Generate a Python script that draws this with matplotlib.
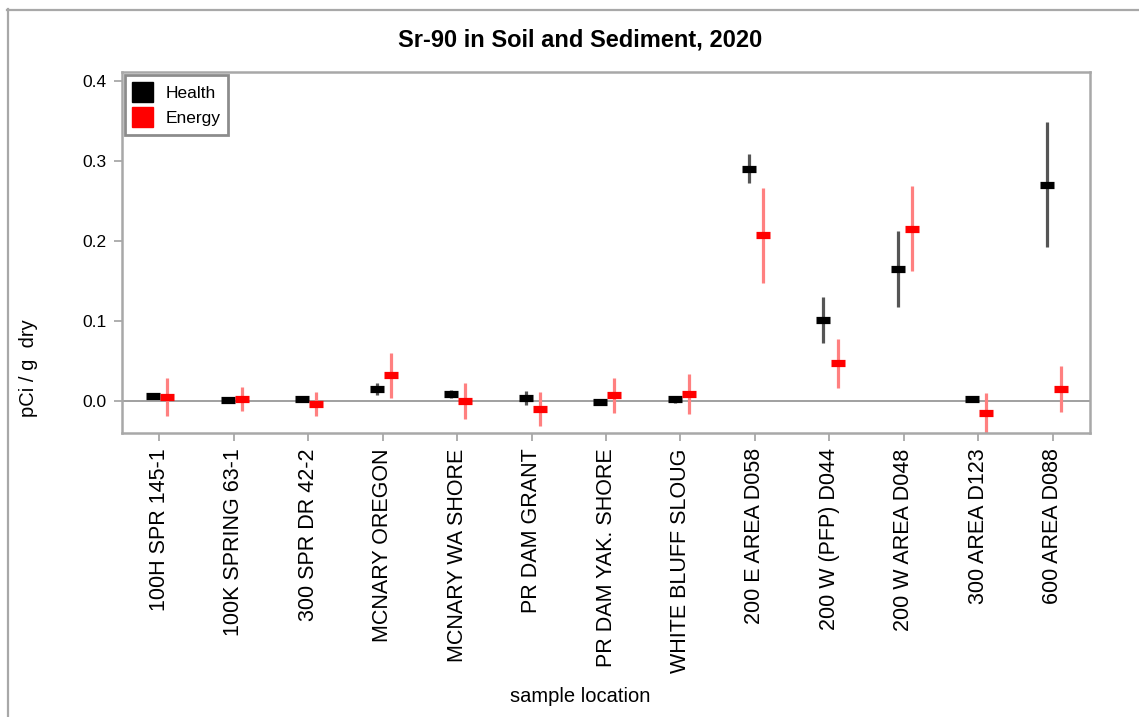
"""Sr-90 in soil and sediment, 2020: Health vs Energy results by sample location."""
import numpy as np
import matplotlib
matplotlib.use("Agg")
from matplotlib import pyplot as plt
from matplotlib.lines import Line2D
from matplotlib.patches import Patch

plt.rcParams["font.family"] = ["Liberation Sans", "DejaVu Sans"]

locations = [
    "100H SPR 145-1", "100K SPRING 63-1", "300 SPR DR 42-2", "MCNARY OREGON",
    "MCNARY WA SHORE", "PR DAM GRANT", "PR DAM YAK. SHORE", "WHITE BLUFF SLOUG",
    "200 E AREA D058", "200 W (PFP) D044", "200 W AREA D048", "300 AREA D123",
    "600 AREA D088",
]
health = [0.006, 0.001, 0.002, 0.015, 0.009, 0.004, -0.001, 0.002,
          0.290, 0.101, 0.165, 0.003, 0.270]
health_err = [0.003, 0.002, 0.003, 0.008, 0.005, 0.009, 0.002, 0.004,
              0.018, 0.029, 0.047, 0.002, 0.078]
energy = [0.005, 0.002, -0.004, 0.032, 0.000, -0.010, 0.007, 0.009,
          0.207, 0.047, 0.215, -0.015, 0.015]
energy_err = [0.024, 0.015, 0.015, 0.028, 0.022, 0.021, 0.022, 0.025,
              0.059, 0.031, 0.053, 0.025, 0.029]
yticks = [0.0, 0.1, 0.2, 0.3, 0.4]

W, H = 1139, 717
fig = plt.figure(figsize=(W / 100, H / 100), dpi=100)
ax = fig.add_axes([122 / W, 1 - 433 / H, 968 / W, (433 - 72) / H])

x = np.arange(len(locations))
frame_gray = "#a8a8a8"

ax.axhline(0, color="#a0a0a0", lw=1.4, zorder=1)
ax.errorbar(x - 0.08, health, yerr=health_err, fmt="none", ecolor="#555555",
            elinewidth=2.3, zorder=2)
ax.errorbar(x + 0.11, energy, yerr=energy_err, fmt="none", ecolor="#ff8080",
            elinewidth=2.3, zorder=2)
ax.plot(x - 0.08, health, ls="none", marker="_", ms=10.5, mew=5.2, color="black", zorder=3)
ax.plot(x + 0.11, energy, ls="none", marker="_", ms=10.5, mew=5.2, color="red", zorder=3)

ax.set_xlim(-0.5, len(locations) - 0.5)
ax.set_ylim(-0.04, 0.411)
ax.set_xticks(x)
ax.set_xticklabels(locations, rotation=90, fontsize=15.5)
ax.set_yticks(yticks)
ax.set_yticklabels([f"{v:.1f}" for v in yticks], fontsize=12.5)
ax.tick_params(direction="out", length=6, width=1.3, color=frame_gray, pad=5)
for s in ax.spines.values():
    s.set_color(frame_gray)
    s.set_linewidth(1.8)

ax.set_ylabel("pCi / g  dry", fontsize=14.5)
ax.yaxis.set_label_coords(-0.087, 0.18)

fig.text(580 / W, 1 - 40 / H, "Sr-90 in Soil and Sediment, 2020", ha="center", va="center",
         fontsize=17, fontweight="bold")
fig.text(580 / W, 1 - 697 / H, "sample location", ha="center", va="center", fontsize=14.5)

handles = [Patch(facecolor="black", edgecolor="black"), Patch(facecolor="red", edgecolor="red")]
leg = ax.legend(handles, ["Health", "Energy"], loc="upper left", fontsize=12.5,
                frameon=True, fancybox=False, handlelength=1.2, handleheight=1.4,
                handletextpad=0.7, borderpad=0.45, labelspacing=0.25,
                borderaxespad=0.15)
leg.get_frame().set_edgecolor("#707070")
leg.get_frame().set_linewidth(2)

# outer window frame
fig.add_artist(Line2D([7 / W, 1], [1 - 9.5 / H, 1 - 9.5 / H], color="#a8a8a8", lw=1.6))
fig.add_artist(Line2D([7.5 / W, 7.5 / W], [0, 1 - 9 / H], color="#a8a8a8", lw=1.6))

fig.savefig("out.png", dpi=100)
